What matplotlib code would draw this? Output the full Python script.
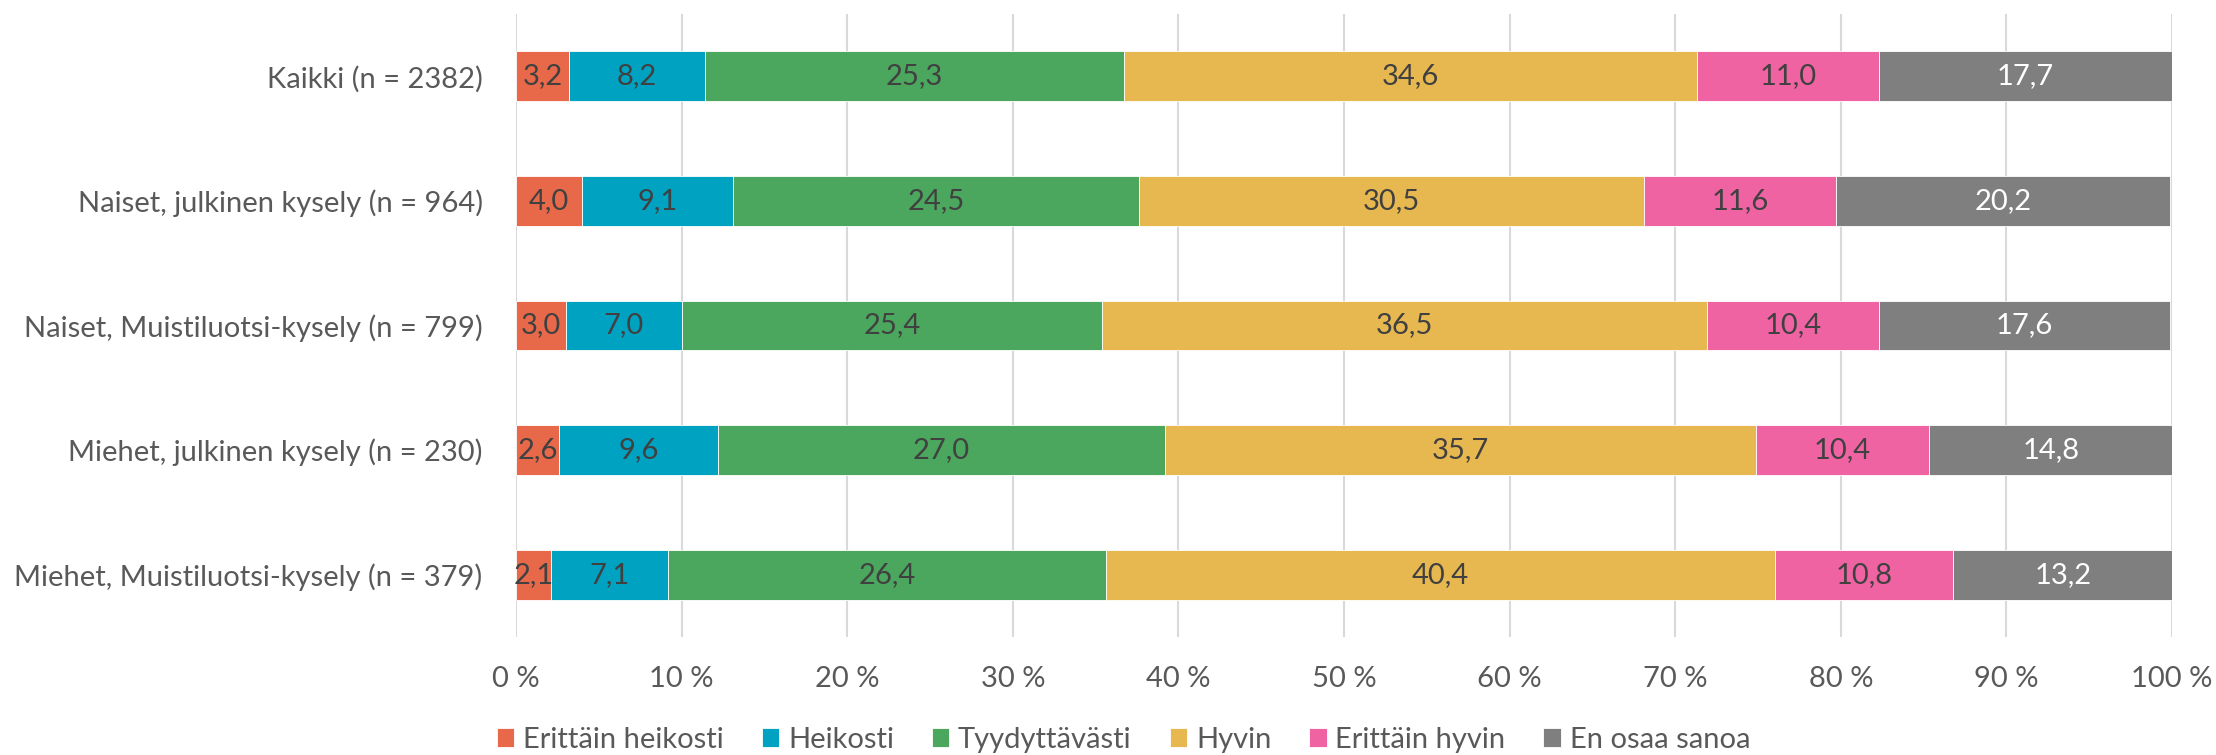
import numpy as np
import matplotlib
matplotlib.use("Agg")
import matplotlib.pyplot as plt

plt.rcParams['font.family'] = ['Lato', 'DejaVu Sans']

groups = ["Kaikki (n = 2382)",
          "Naiset, julkinen kysely (n = 964)",
          "Naiset, Muistiluotsi-kysely (n = 799)",
          "Miehet, julkinen kysely (n = 230)",
          "Miehet, Muistiluotsi-kysely (n = 379)"]
answers = ["Erittäin heikosti", "Heikosti", "Tyydyttävästi", "Hyvin", "Erittäin hyvin", "En osaa sanoa"]

erittain_heikosti = [3.2, 4.0, 3.0, 2.6, 2.1]
heikosti = [8.2, 9.1, 7.0, 9.6, 7.1]
tyydyttavasti = [25.3, 24.5, 25.4, 27.0, 26.4]
hyvin = [34.6, 30.5, 36.5, 35.7, 40.4]
erittain_hyvin = [11.0, 11.6, 10.4, 10.4, 10.8]
en_osaa = [17.7, 20.2, 17.6, 14.8, 13.2]

series = [erittain_heikosti, heikosti, tyydyttavasti, hyvin, erittain_hyvin, en_osaa]
colors = ['#E8694A', '#00A2C1', '#4BA65E', '#E8B850', '#EF63A3', '#7F7F7F']
txtcol = ['#404040'] * 5 + ['white']

fig = plt.figure(figsize=(22.16, 7.55), dpi=100)
ax = fig.add_axes([516/2216, 1-637/755, (2172-516)/2216, 623/755])

y = np.arange(len(groups))
left = np.zeros(len(groups))
for name, vals, c, tc in zip(answers, series, colors, txtcol):
    vals = np.array(vals)
    ax.barh(y, vals, left=left, height=0.4, color=c, label=name,
            edgecolor='white', linewidth=0.6, zorder=3)
    for yi, l, v in zip(y, left, vals):
        ax.text(l + v/2, yi, f"{v:.1f}".replace('.', ','), ha='center', va='center',
                color=tc, fontsize=21, zorder=4)
    left += vals

ax.set_xlim(0, 100)
ax.set_ylim(len(groups)-0.5, -0.5)
ax.set_yticks(y)
ax.set_yticklabels(groups)
ax.set_xticks(np.arange(0, 101, 10))
ax.set_xticklabels([f"{t} %" for t in range(0, 101, 10)])
ax.tick_params(axis='both', length=0, labelsize=21, colors='#595959')
ax.tick_params(axis='x', pad=21)
ax.tick_params(axis='y', pad=24)
ax.grid(axis='x', color='#D9D9D9', linewidth=1.5, zorder=0)
for s in ax.spines.values():
    s.set_visible(False)

fig.legend(loc='center', bbox_to_anchor=(0.507, 1-740/755), ncol=6, frameon=False,
           fontsize=21, handlelength=0.6, handleheight=0.6, handletextpad=0.3,
           columnspacing=1.3, labelcolor='#595959')

fig.savefig("out.png", dpi=100)
